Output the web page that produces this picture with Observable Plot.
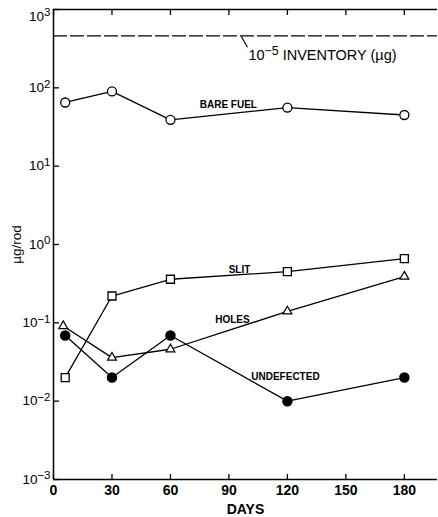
<!DOCTYPE html>
<html><head>
<meta charset="utf-8">
<script src="https://cdn.jsdelivr.net/npm/d3@7"></script>
<script src="https://cdn.jsdelivr.net/npm/@observablehq/plot@0.6"></script>
<style>body{margin:0;background:#fff}</style>
</head><body><div id="chart"></div>
<script>
const days = [6, 30, 60, 120, 180];
const holesDays = [5, 30, 60, 120, 180];
const bareFuel = [65, 90, 39, 56, 45];
const slit = [0.02, 0.22, 0.36, 0.45, 0.66];
const holes = [0.091, 0.036, 0.046, 0.14, 0.39];
const undefected = [0.069, 0.02, 0.069, 0.01, 0.02];
const inventory = 460;
const xTicks = [0, 30, 60, 90, 120, 150, 180];
const yTicks = [1e-3, 1e-2, 1e-1, 1, 10, 100, 1000];
const yTickExponents = ["−3", "−2", "−1", "0", "1", "2", "3"];

const mk = (xs, ys) => xs.map((x, i) => ({x, y: ys[i]}));
const bare = mk(days, bareFuel);
const sl = mk(days, slit);
const ho = mk(holesDays, holes);
const un = mk(days, undefected);

const font = "Liberation Sans, Arial, sans-serif";
const chart = Plot.plot({
  width: 438,
  height: 517,
  marginLeft: 53,
  marginRight: 1,
  marginTop: 9,
  marginBottom: 38,
  style: {fontFamily: font, background: "#fff", overflow: "visible"},
  x: {domain: [0, 197]},
  y: {type: "log", domain: [1e-3, 1e3]},
  marks: [
    Plot.ruleX([0], {strokeWidth: 1.5}),
    Plot.ruleY([1e-3, 1e3], {strokeWidth: 1.5}),
    Plot.ruleY([inventory], {strokeDasharray: "14,3", strokeWidth: 1.4}),
    Plot.axisX({ticks: xTicks, tickSize: 5, dy: -5, text: null, anchor: "bottom", label: null, strokeWidth: 1.3}),
    Plot.axisX({ticks: xTicks, tickSize: 5, dy: 5, text: null, anchor: "top", label: null, strokeWidth: 1.3}),
    Plot.axisX({ticks: xTicks, tickSize: 0, tickPadding: 6, anchor: "bottom", fontSize: 14, fontWeight: "bold",
      label: "DAYS", labelAnchor: "center", labelArrow: "none", labelOffset: 34}),
    Plot.axisY({ticks: yTicks, tickSize: 6, dx: 6, text: null, label: null, strokeWidth: 1.3}),
    Plot.axisY({ticks: yTicks, tickSize: 0, tickPadding: 3, fontSize: 13.5, className: "ylab",
      tickFormat: d => "10|" + yTickExponents[yTicks.indexOf(d)],
      label: "µg/rod", labelAnchor: "center", labelArrow: "none", labelOffset: 42}),
    Plot.line(bare, {x: "x", y: "y", strokeWidth: 1.3}),
    Plot.line(sl, {x: "x", y: "y", strokeWidth: 1.3}),
    Plot.line(ho, {x: "x", y: "y", strokeWidth: 1.3}),
    Plot.line(un, {x: "x", y: "y", strokeWidth: 1.3}),
    Plot.dot(bare, {x: "x", y: "y", r: 4.5, stroke: "black", fill: "white", strokeWidth: 1.3}),
    Plot.dot(sl, {x: "x", y: "y", symbol: "square", r: 4.5, stroke: "black", fill: "white", strokeWidth: 1.3}),
    Plot.dot(ho, {x: "x", y: "y", symbol: "triangle", r: 3.3, stroke: "black", fill: "white", strokeWidth: 1.2}),
    Plot.dot(un, {x: "x", y: "y", r: 4.5, fill: "black", stroke: "black"}),
    Plot.link([{x1: 96.4, y1: 452, x2: 99.5, y2: 330}], {x1: "x1", y1: "y1", x2: "x2", y2: "y2", strokeWidth: 1.2}),
    Plot.text(["10|−5| INVENTORY (µg)"], {x: 138, y: 259, fontSize: 14.5, className: "inv"}),
    Plot.text(["BARE FUEL"], {x: 89.7, y: 61, fontSize: 10, fontWeight: "bold"}),
    Plot.text(["SLIT"], {x: 95.4, y: 0.478, fontSize: 10, fontWeight: "bold"}),
    Plot.text(["HOLES"], {x: 91.8, y: 0.11, fontSize: 10, fontWeight: "bold"}),
    Plot.text(["UNDEFECTED"], {x: 119, y: 0.0207, fontSize: 10, fontWeight: "bold"})
  ]
});
// superscripts as tspans
d3.select(chart).selectAll("g.ylab text, g.inv text").each(function() {
  const t = this.textContent;
  if (!t.includes("|")) return;
  const parts = t.split("|");
  const sel = d3.select(this);
  sel.text(null);
  sel.append("tspan").text(parts[0]);
  sel.append("tspan").attr("dy", "-0.38em").attr("font-size", "0.85em").text(parts[1]);
  if (parts[2]) sel.append("tspan").attr("dy", "0.32em").text(parts[2]);
});
// keep the top label inside the picture
d3.select(chart).selectAll("g.ylab text").filter(function() { return this.textContent === "10" + yTickExponents[6]; })
  .attr("dy", "0.5em");
document.getElementById("chart").append(chart);
</script>
</body></html>
